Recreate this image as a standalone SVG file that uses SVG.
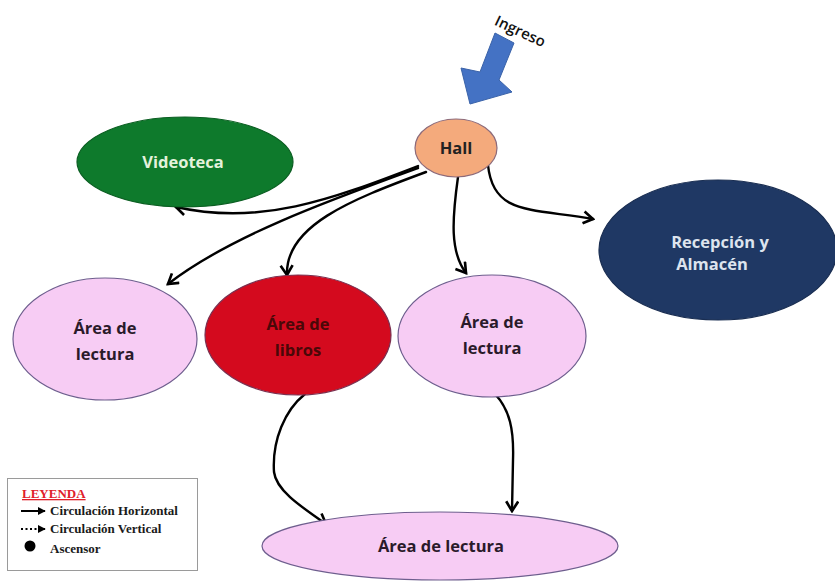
<svg xmlns="http://www.w3.org/2000/svg" width="835" height="585" viewBox="0 0 835 585">
  <style>
    .node { stroke-width: 1.2; }
    .lbl { font-family: "Open Sans", "Noto Sans", "Liberation Sans", sans-serif; font-weight: 700; font-size: 16.5px; text-anchor: middle; }
    .conn { fill: none; stroke: #000; stroke-width: 2.4; stroke-linecap: round; marker-end: url(#chev); }
    .leg { font-family: "Liberation Serif", "Times New Roman", serif; font-weight: 700; font-size: 13px; fill: #1a1a1a; }
  </style>
  <defs>
    <marker id="chev" viewBox="0 0 12 12" refX="10" refY="6" markerWidth="6" markerHeight="6" orient="auto" markerUnits="strokeWidth">
      <path d="M2,1 L10,6 L2,11" fill="none" stroke="#000" stroke-width="2.2" stroke-linejoin="miter"/>
    </marker>
    <marker id="tri" viewBox="0 0 10 10" refX="9" refY="5" markerWidth="4" markerHeight="4" orient="auto" markerUnits="strokeWidth">
      <path d="M0,0 L10,5 L0,10 Z" fill="#000"/>
    </marker>
  </defs>

  <rect width="835" height="585" fill="#fff"/>

  <!-- entrance arrow -->
  <g id="ingreso">
    <polygon points="495,33 514,43 499,80 512,92 470,104 461,68 480,72" fill="#4472C4" stroke="#3A62A8" stroke-width="1"/>
    <text class="lbl" x="0" y="0" transform="translate(518,36) rotate(25)" fill="#111" style="font-weight:600;font-size:15px">Ingreso</text>
  </g>

  <!-- connectors -->
  <g id="connectors">
    <path class="conn" d="M418,166 C 330,200 260,226 176,207"/>
    <path class="conn" d="M418,168 C 330,200 230,236 168,284"/>
    <path class="conn" d="M426,172 C 350,200 285,226 287,275"/>
    <path class="conn" d="M458,177 C 452,220 450,252 466,273"/>
    <path class="conn" d="M488,165 C 493,215 530,208 593,219"/>
    <path class="conn" d="M305,394 C 285,410 272,440 274,472 C 276,490 300,506 326,524"/>
    <path class="conn" d="M495,394 C 510,410 514,430 513,460 L512,511"/>
  </g>

  <g id="hall">
    <ellipse class="node" cx="456" cy="148" rx="41" ry="29" fill="#F4AA7C" stroke="#8C6A7A"/>
    <text class="lbl" x="456" y="154" fill="#222">Hall</text>
  </g>

  <g id="videoteca">
    <ellipse class="node" cx="185" cy="162" rx="108" ry="45" fill="#0E7A2C" stroke="#0B5E22"/>
    <text class="lbl" x="183" y="168" fill="#E4F2DC">Videoteca</text>
  </g>

  <g id="recepcion">
    <ellipse class="node" cx="718" cy="250" rx="119" ry="70" fill="#1F3864" stroke="#1A2E52"/>
    <text class="lbl" x="720" y="248" fill="#DDE4EE">Recepción y</text>
    <text class="lbl" x="712" y="270" fill="#DDE4EE">Almacén</text>
  </g>

  <g id="lectura-izq">
    <ellipse class="node" cx="105" cy="339" rx="92" ry="61" fill="#F7CCF4" stroke="#6E5E8E"/>
    <text class="lbl" x="105" y="334" fill="#2a1a2a">Área de</text>
    <text class="lbl" x="105" y="360" fill="#2a1a2a">lectura</text>
  </g>

  <g id="libros">
    <ellipse class="node" cx="298" cy="335" rx="93" ry="60" fill="#D40A1E" stroke="#7A3050"/>
    <text class="lbl" x="298" y="330" fill="#4A0808">Área de</text>
    <text class="lbl" x="298" y="356" fill="#4A0808">libros</text>
  </g>

  <g id="lectura-centro">
    <ellipse class="node" cx="492" cy="336" rx="94" ry="61" fill="#F7CCF4" stroke="#6E5E8E"/>
    <text class="lbl" x="492" y="328" fill="#2a1a2a">Área de</text>
    <text class="lbl" x="492" y="354" fill="#2a1a2a">lectura</text>
  </g>

  <g id="lectura-inferior">
    <ellipse class="node" cx="440" cy="546" rx="178" ry="34" fill="#F7CCF4" stroke="#6E5E8E"/>
    <text class="lbl" x="441" y="552" fill="#2a1a2a">Área de lectura</text>
  </g>

  <!-- legend -->
  <g id="leyenda">
    <rect x="7.5" y="478.5" width="190" height="92" fill="#fff" stroke="#9A9A9A" stroke-width="1"/>
    <text class="leg" x="22" y="498" style="fill:#E0202A" text-decoration="underline">LEYENDA</text>
    <line x1="21" y1="511" x2="45" y2="511" stroke="#000" stroke-width="2" marker-end="url(#tri)"/>
    <text class="leg" x="50" y="515">Circulación Horizontal</text>
    <line x1="21" y1="529" x2="45" y2="529" stroke="#000" stroke-width="2" stroke-dasharray="2,2.5" marker-end="url(#tri)"/>
    <text class="leg" x="50" y="533">Circulación Vertical</text>
    <circle cx="30" cy="546" r="5.5" fill="#000"/>
    <text class="leg" x="50" y="553">Ascensor</text>
  </g>
</svg>
